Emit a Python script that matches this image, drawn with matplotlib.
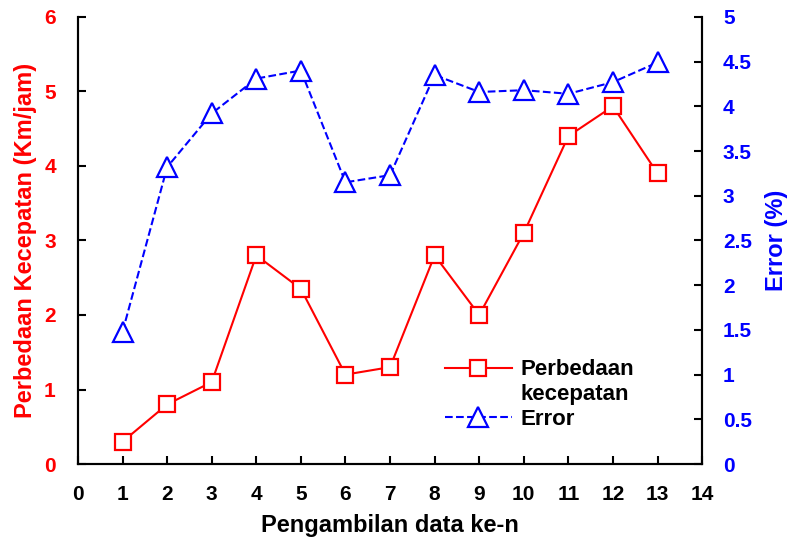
import numpy as np
import matplotlib
matplotlib.use("Agg")
import matplotlib.pyplot as plt
from matplotlib.lines import Line2D

plt.rcParams['font.family'] = ['Liberation Sans', 'DejaVu Sans']
plt.rcParams['font.weight'] = 'bold'

# data
data_ke = [1, 2, 3, 4, 5, 6, 7, 8, 9, 10, 11, 12, 13]
perbedaan = [0.3, 0.8, 1.1, 2.8, 2.35, 1.2, 1.3, 2.8, 2.0, 3.1, 4.4, 4.8, 3.9]
error_pct = [1.48, 3.32, 3.92, 4.31, 4.40, 3.15, 3.23, 4.35, 4.16, 4.18, 4.14, 4.27, 4.49]

fig = plt.figure(figsize=(7.91, 5.44), dpi=100)
ax = fig.add_axes([0.0986, 0.147, 0.789, 0.822])
ax2 = ax.twinx()

l1, = ax.plot(data_ke, perbedaan, color='red', linestyle='-', linewidth=1.5,
              marker='s', markersize=12, markerfacecolor='white',
              markeredgecolor='red', markeredgewidth=1.6)
l2, = ax2.plot(data_ke, error_pct, color='blue', linestyle='--', linewidth=1.5,
               marker='^', markersize=15, markerfacecolor='white',
               markeredgecolor='blue', markeredgewidth=1.6)

ax.set_xlim(0, 14)
ax.set_ylim(0, 6)
ax2.set_ylim(0, 5)
ax.set_xticks(range(0, 15))
ax.set_yticks(range(0, 7))
ax2.set_yticks(np.arange(0, 5.01, 0.5))
ax2.set_yticklabels(['0', '0.5', '1', '1.5', '2', '2.5', '3', '3.5', '4', '4.5', '5'])

for a in (ax, ax2):
    for s in a.spines.values():
        s.set_linewidth(1.5)
    a.spines['top'].set_visible(False)

ax.tick_params(axis='x', direction='in', length=6, width=1.5, labelsize=15, pad=15)
ax.tick_params(axis='y', direction='in', length=6, width=1.5, labelsize=15,
               labelcolor='red', pad=16)
ax2.tick_params(axis='y', direction='in', length=6, width=1.5, labelsize=15,
                labelcolor='blue', pad=15)

ax.set_xlabel('Pengambilan data ke-n', fontsize=17, fontweight='bold', labelpad=7)
ax.set_ylabel('Perbedaan Kecepatan (Km/jam)', fontsize=17, fontweight='bold',
              color='red', labelpad=5)
ax2.set_ylabel('Error (%)', fontsize=17, fontweight='bold', color='blue', labelpad=9)

# legend: first label wraps onto a second line, handle sits on the first line
blank = Line2D([], [], linestyle='none')
ax2.legend(handles=[l1, blank, l2], labels=['Perbedaan', 'kecepatan', 'Error'],
           loc='upper left', bbox_to_anchor=(0.588, 0.234),
           frameon=False, fontsize=16, handlelength=3.0, labelspacing=0.17,
           handletextpad=0.4, borderaxespad=0, borderpad=0)

fig.savefig('out.png', dpi=100)
